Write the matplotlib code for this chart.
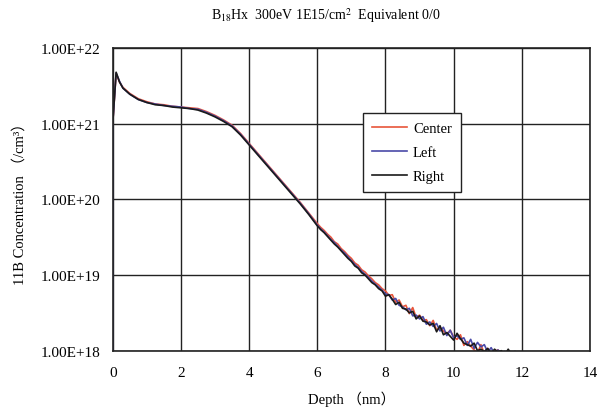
import numpy as np
import matplotlib
matplotlib.use('Agg')
import matplotlib.pyplot as plt

plt.rcParams['font.family'] = ['Liberation Serif', 'Noto Sans CJK JP', 'DejaVu Sans']
plt.rcParams['mathtext.fontset'] = 'stix'

# depth (nm)
depth = [0.0, 0.0, 0.1, 0.2, 0.3, 0.5, 0.75, 1.0, 1.25, 1.5, 1.75, 2.0, 2.25, 2.5, 2.75,
         3.0, 3.25, 3.5, 3.75, 4.0, 4.25, 4.5, 4.75, 5.0, 5.25, 5.5, 5.75,
         6.0, 6.1, 6.2, 6.3, 6.4, 6.5, 6.6, 6.7, 6.8, 6.9,
         7.0, 7.1, 7.2, 7.3, 7.4, 7.5, 7.6, 7.7, 7.8, 7.9,
         8.0, 8.1, 8.2, 8.3, 8.4, 8.5, 8.6, 8.7, 8.8, 8.9,
         9.0, 9.1, 9.2, 9.3, 9.4, 9.5, 9.6, 9.7, 9.8, 9.9,
         10.0, 10.1, 10.2, 10.3, 10.4, 10.5, 10.6, 10.7, 10.8, 10.9,
         11.0, 11.1, 11.2, 11.3, 11.4, 11.5, 11.6, 11.7, 11.8, 11.9,
         12.0]

# log10 of concentration (/cm3)
center_log = [21.0, 21.0, 21.66, 21.55, 21.48, 21.40, 21.33, 21.29, 21.26, 21.25, 21.23, 21.22, 21.21, 21.20, 21.16,
              21.11, 21.05, 20.98, 20.87, 20.74, 20.61, 20.48, 20.35, 20.22, 20.09, 19.96, 19.82,
              19.68, 19.63, 19.59, 19.54, 19.50, 19.44, 19.41, 19.35, 19.31, 19.26,
              19.22, 19.16, 19.13, 19.07, 19.04, 18.99, 18.95, 18.90, 18.87, 18.82,
              18.79, 18.73, 18.74, 18.64, 18.67, 18.58, 18.60, 18.49, 18.57, 18.44,
              18.47, 18.40, 18.41, 18.33, 18.40, 18.27, 18.31, 18.26, 18.22, 18.27,
              18.18, 18.15, 18.21, 18.07, 18.12, 18.06, 18.01, 17.97, 18.08, 17.96,
              18.03, 17.93, 17.99, 18.01, 17.94, 17.91, 17.97, 17.90, 17.95, 17.89,
              17.88]
left_log = [15.0, 21.0, 21.67, 21.56, 21.47, 21.39, 21.32, 21.28, 21.26, 21.24, 21.23, 21.22, 21.20, 21.19, 21.15,
            21.10, 21.04, 20.97, 20.86, 20.73, 20.60, 20.47, 20.34, 20.21, 20.08, 19.95, 19.81,
            19.66, 19.61, 19.57, 19.52, 19.47, 19.43, 19.38, 19.33, 19.29, 19.24,
            19.19, 19.14, 19.10, 19.05, 19.01, 18.97, 18.92, 18.88, 18.84, 18.80,
            18.75, 18.74, 18.67, 18.69, 18.60, 18.58, 18.54, 18.56, 18.46, 18.47,
            18.42, 18.45, 18.35, 18.38, 18.32, 18.36, 18.26, 18.31, 18.20, 18.27,
            18.17, 18.20, 18.15, 18.17, 18.07, 18.15, 18.03, 18.11, 18.05, 18.08,
            17.98, 18.04, 17.96, 18.01, 17.97, 17.99, 17.92, 17.97, 17.92, 17.90,
            17.88]
right_log = [21.0, 21.0, 21.68, 21.55, 21.47, 21.39, 21.32, 21.28, 21.25, 21.24, 21.22, 21.21, 21.20, 21.18, 21.14,
             21.09, 21.03, 20.96, 20.85, 20.72, 20.59, 20.46, 20.33, 20.20, 20.07, 19.94, 19.80,
             19.65, 19.60, 19.56, 19.51, 19.46, 19.41, 19.37, 19.32, 19.27, 19.22,
             19.18, 19.12, 19.09, 19.03, 19.00, 18.95, 18.90, 18.87, 18.82, 18.79,
             18.72, 18.74, 18.68, 18.61, 18.64, 18.56, 18.55, 18.50, 18.52, 18.42,
             18.46, 18.39, 18.38, 18.34, 18.36, 18.25, 18.33, 18.21, 18.24, 18.19,
             18.14, 18.23, 18.16, 18.10, 18.08, 18.06, 18.10, 18.00, 18.02, 17.99,
             18.03, 17.96, 18.02, 17.98, 18.00, 17.94, 18.02, 17.95, 17.99, 17.92,
             17.88]

series = ['Center', 'Left', 'Right']
colors = ['#e8553a', '#4a4aa8', '#1a1a1a']
yticks = [1e18, 1e19, 1e20, 1e21, 1e22]
ytick_labels = ['1.00E+18', '1.00E+19', '1.00E+20', '1.00E+21', '1.00E+22']

fig = plt.figure(figsize=(5.97, 4.14), dpi=100)
ax = fig.add_axes([0.1888, 0.1505, 0.7995, 0.7311])

for name, vals, c in zip(series, [center_log, left_log, right_log], colors):
    ax.plot(depth, 10 ** np.array(vals), color=c, lw=1.2, label=name)

ax.set_yscale('log')
ax.set_xlim(0, 14)
ax.set_ylim(1e18, 1e22)
ax.set_xticks(range(0, 15, 2))
ax.set_yticks(yticks)
ax.set_yticklabels(ytick_labels)
ax.minorticks_off()
ax.tick_params(length=0, labelsize=11)
ax.tick_params(axis='y', pad=9)
ax.tick_params(axis='x', pad=11)
ax.grid(True, color='#222222', lw=1.0)
for s in ax.spines.values():
    s.set_color('#222222')
    s.set_linewidth(1.2)

ax.set_xlabel('Depth （nm）', fontsize=10.5, labelpad=8)
ax.set_ylabel('11B Concentration （/cm³）', fontsize=10.5, labelpad=10)

fig.text(0.545, 0.962, 'B$_{18}$Hx  300eV 1E15/cm$^2$  Equivalent 0/0',
         ha='center', va='center', fontsize=10)

leg = ax.legend(loc='upper left', bbox_to_anchor=(0.51, 0.81), fontsize=10.5,
                frameon=True, fancybox=False, edgecolor='#222222', framealpha=1,
                handlelength=2.4, handletextpad=0.4, labelspacing=0.75, borderpad=0.6)
leg.get_frame().set_linewidth(1.0)

plt.savefig('out.png', dpi=100)
